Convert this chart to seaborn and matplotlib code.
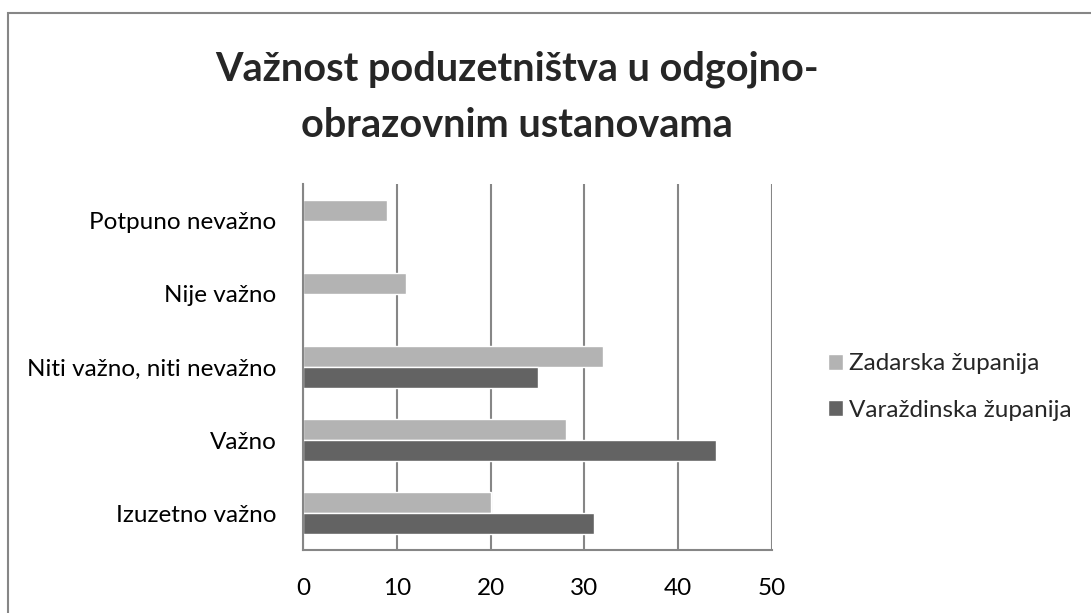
import matplotlib
matplotlib.use("Agg")
import matplotlib.pyplot as plt
import seaborn as sns
import pandas as pd
from matplotlib.patches import Rectangle

categories = ["Potpuno nevažno", "Nije važno", "Niti važno, niti nevažno", "Važno", "Izuzetno važno"]
zadarska = [9, 11, 32, 28, 20]
varazdinska = [0, 0, 25, 44, 31]
series_names = ["Zadarska županija", "Varaždinska županija"]
x_ticks = [0, 10, 20, 30, 40, 50]
title_lines = ["Važnost poduzetništva u odgojno-", "obrazovnim ustanovama"]

df = pd.DataFrame({
    "kategorija": categories * 2,
    "vrijednost": zadarska + varazdinska,
    "županija": [series_names[0]] * len(categories) + [series_names[1]] * len(categories),
})

sns.set_theme(style="white")
plt.rcParams["font.family"] = ["Lato", "DejaVu Sans"]

fig = plt.figure(figsize=(10.91, 6.13), dpi=100)
ax = fig.add_axes([303 / 1091, 1 - 550 / 613, 469 / 1091, 366 / 613])

palette = {series_names[0]: "#b3b3b3", series_names[1]: "#636363"}
sns.barplot(data=df, x="vrijednost", y="kategorija", hue="županija",
            hue_order=series_names, order=categories, palette=palette,
            orient="h", width=0.574, saturation=1, ax=ax, legend=True)

ax.set_xlim(0, 50)
ax.set_xticks(x_ticks)
ax.set_xlabel("")
ax.set_ylabel("")
ax.xaxis.grid(True, color="#868686", linewidth=1.5)
ax.yaxis.grid(False)
ax.set_axisbelow(True)
for side in ["top", "right"]:
    ax.spines[side].set_visible(False)
for side in ["left", "bottom"]:
    ax.spines[side].set_color("#868686")
    ax.spines[side].set_linewidth(1.5)
ax.tick_params(axis="both", length=0, labelsize=17.5, colors="black")
ax.tick_params(axis="x", pad=20)
ax.tick_params(axis="y", pad=19)

leg = ax.legend(loc="center left", bbox_to_anchor=(818 / 1091, 1 - 387 / 613),
                bbox_transform=fig.transFigure, frameon=False, fontsize=17.5,
                handlelength=0.62, handleheight=0.62, handletextpad=0.25,
                labelspacing=1.05, borderaxespad=0)

# two-line bold title, one text per line
for line, baseline in zip(title_lines, [80, 137]):
    fig.text(517 / 1091, 1 - baseline / 613, line, ha="center", va="baseline",
             fontsize=28.5, fontweight="bold")

fig.patches.append(Rectangle((8 / 1091, -0.05), 1.1, 1 - 13.5 / 613 + 0.05,
                             transform=fig.transFigure, fill=False,
                             edgecolor="#868686", linewidth=1.5))

fig.savefig("out.png", dpi=100, facecolor="white")
